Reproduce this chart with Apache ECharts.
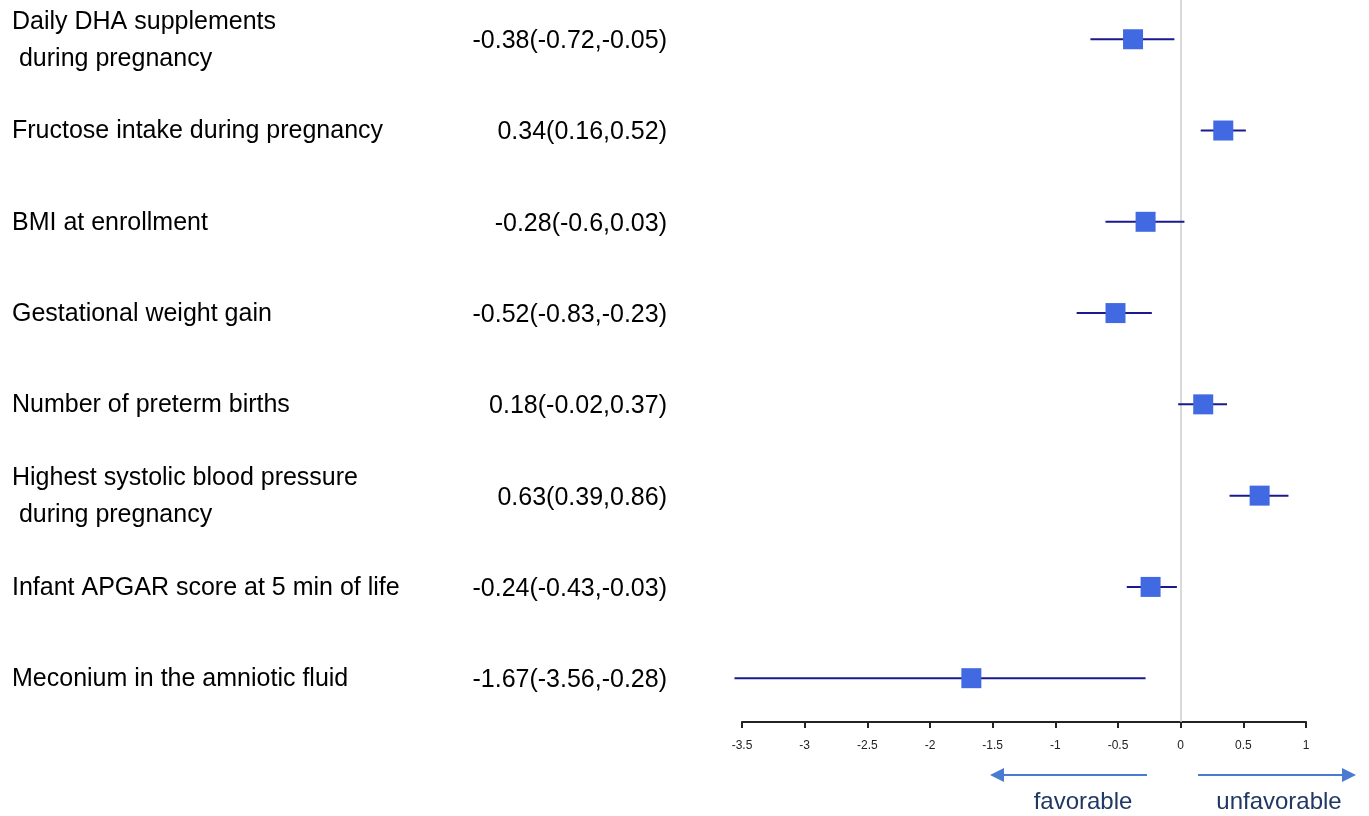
<!DOCTYPE html>
<html>
<head>
<meta charset="utf-8">
<title>Forest plot</title>
<script src="https://cdn.jsdelivr.net/npm/echarts@6/dist/echarts.min.js"></script>
<style>
  html, body { margin: 0; padding: 0; background: #fff; }
  #container { width: 1369px; height: 816px; }
</style>
</head>
<body>
<div id="container"></div>
<script>
// 变量名称
var labels = [
  'Daily DHA supplements\n during pregnancy',
  'Fructose intake during pregnancy',
  'BMI at enrollment',
  'Gestational weight gain',
  'Number of preterm births',
  'Highest systolic blood pressure\n during pregnancy',
  'Infant APGAR score at 5 min of life',
  'Meconium in the amniotic fluid'
];
// 估计值及置信区间
var estimates = [-0.38, 0.34, -0.28, -0.52, 0.18, 0.63, -0.24, -1.67];
var lower = [-0.72, 0.16, -0.6, -0.83, -0.02, 0.39, -0.43, -3.56];
var upper = [-0.05, 0.52, 0.03, -0.23, 0.37, 0.86, -0.03, -0.28];
var ciText = [
  '-0.38(-0.72,-0.05)',
  '0.34(0.16,0.52)',
  '-0.28(-0.6,0.03)',
  '-0.52(-0.83,-0.23)',
  '0.18(-0.02,0.37)',
  '0.63(0.39,0.86)',
  '-0.24(-0.43,-0.03)',
  '-1.67(-3.56,-0.28)'
];
var xTicks = [-3.5, -3, -2.5, -2, -1.5, -1, -0.5, 0, 0.5, 1];

var font = 'Liberation Sans, Arial, sans-serif';
var myChart = echarts.init(document.getElementById('container'));

var rows = [];
for (var i = 0; i < labels.length; i++) {
  rows.push([i, estimates[i], lower[i], upper[i]]);
}

function renderRow(params, api) {
  var idx = api.value(0);
  var pEst = api.coord([api.value(1), idx]);
  var pLo = api.coord([api.value(2), idx]);
  var pHi = api.coord([api.value(3), idx]);
  var s = 20;
  return {
    type: 'group',
    children: [
      {
        type: 'line',
        shape: { x1: pLo[0], y1: pLo[1], x2: pHi[0], y2: pHi[1] },
        style: { stroke: '#1a1a8e', lineWidth: 2 }
      },
      {
        type: 'rect',
        shape: { x: pEst[0] - s / 2, y: pEst[1] - s / 2, width: s, height: s },
        style: { fill: '#4169e1' }
      },
      {
        type: 'text',
        x: 12, y: pEst[1] + 1,
        style: {
          text: labels[idx], fill: '#000', font: '25px ' + font,
          textAlign: 'left', textVerticalAlign: 'middle', lineHeight: 37
        }
      },
      {
        type: 'text',
        x: 667, y: pEst[1] + 2,
        style: {
          text: ciText[idx], fill: '#000', font: '25px ' + font,
          textAlign: 'right', textVerticalAlign: 'middle'
        }
      }
    ]
  };
}

var option = {
  animation: false,
  backgroundColor: '#fff',
  grid: { left: 742, right: 63, top: 0, bottom: 94 },
  xAxis: {
    type: 'value',
    min: -3.5, max: 1, interval: 0.5,
    splitLine: { show: false },
    axisLine: { show: true, onZero: false, lineStyle: { color: '#222', width: 2 } },
    axisTick: { show: true, length: 6, lineStyle: { color: '#222', width: 2 } },
    axisLabel: {
      color: '#222', fontSize: 12, fontFamily: font, margin: 18,
      formatter: function (v) { return String(v); }
    }
  },
  yAxis: {
    type: 'value',
    inverse: true,
    min: -0.43, max: 7.48,
    show: false
  },
  series: [
    {
      type: 'line',
      data: [],
      markLine: {
        silent: true, symbol: 'none',
        label: { show: false },
        lineStyle: { color: '#cccccc', width: 1.5, type: 'solid' },
        data: [{ xAxis: 0 }]
      }
    },
    {
      type: 'custom',
      renderItem: renderRow,
      encode: { x: [1, 2, 3], y: 0 },
      data: rows,
      z: 5
    }
  ],
  graphic: [
    {
      type: 'line',
      shape: { x1: 1147, y1: 775, x2: 1002, y2: 775 },
      style: { stroke: '#4a7bd0', lineWidth: 2 }
    },
    {
      type: 'polygon',
      shape: { points: [[990, 775], [1004, 768], [1004, 782]] },
      style: { fill: '#4a7bd0' }
    },
    {
      type: 'line',
      shape: { x1: 1198, y1: 775, x2: 1343, y2: 775 },
      style: { stroke: '#4a7bd0', lineWidth: 2 }
    },
    {
      type: 'polygon',
      shape: { points: [[1356, 775], [1342, 768], [1342, 782]] },
      style: { fill: '#4a7bd0' }
    },
    {
      type: 'text', x: 1083, y: 802,
      style: {
        text: 'favorable', fill: '#1f3864', font: '24px ' + font,
        textAlign: 'center', textVerticalAlign: 'middle'
      }
    },
    {
      type: 'text', x: 1279, y: 802,
      style: {
        text: 'unfavorable', fill: '#1f3864', font: '24px ' + font,
        textAlign: 'center', textVerticalAlign: 'middle'
      }
    }
  ]
};

myChart.setOption(option);
</script>
</body>
</html>
